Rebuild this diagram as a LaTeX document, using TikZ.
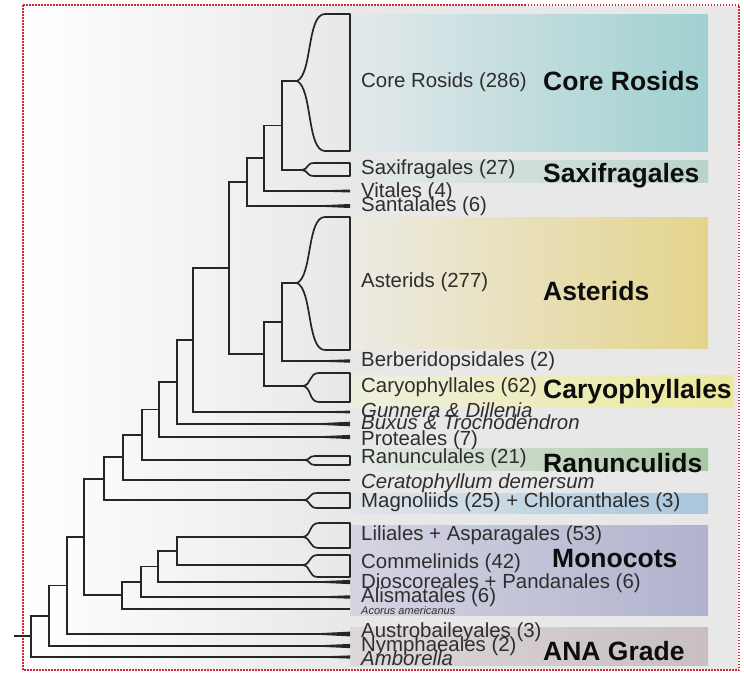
\documentclass[tikz,border=0pt]{standalone}
\usepackage{fontspec}
\setmainfont{Liberation Sans}
\definecolor{bgr}{HTML}{E8E8E8}
\definecolor{crL}{HTML}{E3E9EB}\definecolor{crR}{HTML}{A0D0D0}
\definecolor{sxL}{HTML}{E6E9E8}\definecolor{sxR}{HTML}{B9D3CB}
\definecolor{asL}{HTML}{ECEBE4}\definecolor{asR}{HTML}{E4D48C}
\definecolor{caL}{HTML}{EFEFE0}\definecolor{caR}{HTML}{ECE99C}
\definecolor{raL}{HTML}{E8EBE8}\definecolor{raR}{HTML}{A8C8A4}
\definecolor{maL}{HTML}{E0E6EA}\definecolor{maR}{HTML}{A9C6DD}
\definecolor{moL}{HTML}{D4D4E2}\definecolor{moR}{HTML}{B1B2CE}
\definecolor{anL}{HTML}{DDD8DA}\definecolor{anR}{HTML}{C8BEC3}
\definecolor{bord}{HTML}{D02838}
\newcommand\cladewedge[5]{% apex x, apex y, top y, bottom y, curve length
  \draw[wedge] (350,#3) -- ({#1+#5},#3)
    .. controls ({#1+0.35*#5},#3) and ({#1+0.55*#5},{#2-0.1*(#2-#3)}) .. (#1,#2)
    .. controls ({#1+0.55*#5},{#2+0.1*(#4-#2)}) and ({#1+0.35*#5},#4) .. ({#1+#5},#4)
    -- (350,#4) -- cycle;}
\newcommand\taperend[2]{% leaf coordinate name, half thickness
  \fill[black!85] ([xshift=-48pt]#1) -- ([yshift=#2pt]#1) -- ([yshift=-#2pt]#1) -- cycle;}
\begin{document}
\begin{tikzpicture}[x=1pt,y=-1pt,
  br/.style={line width=1.9pt, draw=black!85},
  wedge/.style={line width=1.7pt, draw=black!85, line join=round},
  lab/.style={anchor=base west, inner sep=0pt, text=black!82, font=\fontsize{20.4}{22}\selectfont},
  ilab/.style={lab, font=\fontsize{20.4}{22}\selectfont\itshape},
  big/.style={anchor=base west, inner sep=0pt, text=black!95, font=\fontsize{26.5}{28}\selectfont\bfseries},
  band/.style={draw=none}]
\useasboundingbox (0,0) rectangle (744,673);
\fill[white] (0,0) rectangle (744,673);
\shade[left color=white, right color=bgr] (24,6) rectangle (350,669);
\fill[bgr] (350,6) rectangle (738,669);
% bands
\shade[band, left color=crL, right color=crR] (350,14) rectangle (708,151);
\shade[band, left color=sxL, right color=sxR] (350,160) rectangle (708,182);
\shade[band, left color=asL, right color=asR] (350,217) rectangle (708,348);
\shade[band, left color=caL, right color=caR] (350,375) rectangle (733,407);
\shade[band, left color=raL, right color=raR] (350,448) rectangle (708,470);
\shade[band, left color=maL, right color=maR] (350,493) rectangle (708,513);
\shade[band, left color=moL, right color=moR] (350,525) rectangle (708,615);
\shade[band, left color=anL, right color=anR] (350,627) rectangle (708,665);
% border
\draw[bord, line width=1.3pt, dash pattern=on 1.5pt off 1.5pt] (23,5) rectangle (739,670);
% leaves and apices
\coordinate (cr) at (297,81);
\coordinate (sax) at (302,170);
\coordinate (vit) at (350,191);
\coordinate (san) at (350,206);
\coordinate (ast) at (297,283);
\coordinate (ber) at (350,361);
\coordinate (car) at (303,386);
\coordinate (gun) at (350,412);
\coordinate (bux) at (350,424);
\coordinate (pro) at (350,437);
\coordinate (ran) at (305,460);
\coordinate (cer) at (350,480);
\coordinate (mag) at (304,500);
\coordinate (lil) at (303,537);
\coordinate (com) at (303,565);
\coordinate (dio) at (350,582);
\coordinate (ali) at (350,597);
\coordinate (aco) at (350,609);
\coordinate (aus) at (350,634);
\coordinate (nym) at (350,646);
\coordinate (amb) at (350,657);
% internal nodes
\coordinate (nCR) at (282,125.5);
\coordinate (nV) at (264,158.25);
\coordinate (nS) at (247,182.1);
\coordinate (nA) at (282,322);
\coordinate (nC) at (264,354);
\coordinate (nSA) at (229,268);
\coordinate (nG) at (193,340);
\coordinate (nB) at (177,382);
\coordinate (nP) at (159,409.5);
\coordinate (nR) at (142,434.75);
\coordinate (nCe) at (123,457.4);
\coordinate (nM) at (104,478.7);
\coordinate (nL) at (177,551);
\coordinate (nD) at (158,566.5);
\coordinate (nAl) at (141,581.75);
\coordinate (nAc) at (122,595.4);
\coordinate (nMe) at (84,537);
\coordinate (nAu) at (67,585.5);
\coordinate (nN) at (49,615.75);
\coordinate (nRt) at (31,636.4);
\coordinate (root) at (14,636.4);
% branches
\draw[br] (cr) -| (nCR) |- (sax);
\draw[br] (nCR) -| (nV) |- (vit);
\draw[br] (nV) -| (nS) |- (san);
\draw[br] (ast) -| (nA) |- (ber);
\draw[br] (nA) -| (nC) |- (car);
\draw[br] (nS) -| (nSA) |- (nC);
\draw[br] (nSA) -| (nG) |- (gun);
\draw[br] (nG) -| (nB) |- (bux);
\draw[br] (nB) -| (nP) |- (pro);
\draw[br] (nP) -| (nR) |- (ran);
\draw[br] (nR) -| (nCe) |- (cer);
\draw[br] (nCe) -| (nM) |- (mag);
\draw[br] (lil) -| (nL) |- (com);
\draw[br] (nL) -| (nD) |- (dio);
\draw[br] (nD) -| (nAl) |- (ali);
\draw[br] (nAl) -| (nAc) |- (aco);
\draw[br] (nM) -| (nMe) |- (nAc);
\draw[br] (nMe) -| (nAu) |- (aus);
\draw[br] (nAu) -| (nN) |- (nym);
\draw[br] (nN) -| (nRt) |- (amb);
\draw[br] (root) -- (nRt);
% tapered ends
\taperend{vit}{1.5}
\taperend{san}{2.0}
\taperend{ber}{1.7}
\taperend{gun}{1.4}
\taperend{bux}{2.3}
\taperend{pro}{2.1}
\taperend{dio}{2.1}
\taperend{ali}{1.7}
\taperend{aus}{2.4}
\taperend{nym}{2.1}
\taperend{amb}{1.6}
% wedges
\cladewedge{297}{81}{14}{151}{28}
\cladewedge{302}{170}{163}{176}{12}
\cladewedge{297}{283}{217}{350}{28}
\cladewedge{303}{386}{373}{402}{16}
\cladewedge{305}{460}{456}{465}{10}
\cladewedge{304}{500}{493}{508}{13}
\cladewedge{303}{537}{523}{548}{16}
\cladewedge{303}{565}{555}{577}{15}
% small labels
\node[lab] (tCR) at (361,87) {Core Rosids (286)};
\node[lab] (tSax) at (361,174) {Saxifragales (27)};
\node[lab] (tVit) at (361,197) {Vitales (4)};
\node[lab] (tSan) at (361,211) {Santalales (6)};
\node[lab] (tAst) at (361,287) {Asterids (277)};
\node[lab] (tBer) at (361,366) {Berberidopsidales (2)};
\node[lab] (tCar) at (361,392) {Caryophyllales (62)};
\node[ilab] (tGun) at (361,417) {Gunnera \& Dillenia};
\node[ilab] (tBux) at (361,429) {Buxus \& Trochodendron};
\node[lab] (tPro) at (361,445) {Proteales (7)};
\node[lab] (tRan) at (361,463) {Ranunculales (21)};
\node[ilab] (tCer) at (361,488) {Ceratophyllum demersum};
\node[lab] (tMag) at (361,507) {Magnoliids (25) + Chloranthales (3)};
\node[lab] (tLil) at (361,540) {Liliales + Asparagales (53)};
\node[lab] (tCom) at (361,568) {Commelinids (42)};
\node[lab] (tDio) at (361,588) {Dioscoreales + Pandanales (6)};
\node[lab] (tAli) at (361,602) {Alismatales (6)};
\node[anchor=base west, inner sep=0pt, text=black!82, font=\fontsize{11}{12}\selectfont\itshape] (tAco) at (361,614) {Acorus americanus};
\node[lab] (tAus) at (361,637) {Austrobaileyales (3)};
\node[lab] (tNym) at (361,651) {Nymphaeales (2)};
\node[ilab] (tAmb) at (361,665) {Amborella};
% group labels
\node[big] (gCR) at (543,90) {Core Rosids};
\node[big] (gSax) at (543,182) {Saxifragales};
\node[big] (gAst) at (543,300) {Asterids};
\node[big] (gCar) at (543,398) {Caryophyllales};
\node[big] (gRan) at (543,472) {Ranunculids};
\node[big] (gMon) at (552,567) {Monocots};
\node[big] (gANA) at (543,660) {ANA Grade};
\end{tikzpicture}
\end{document}
